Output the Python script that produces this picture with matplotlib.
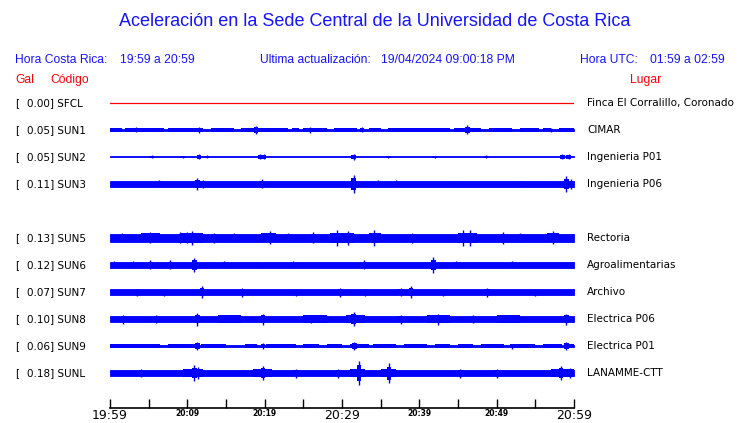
import matplotlib
matplotlib.use("Agg")
import matplotlib.pyplot as plt
from matplotlib.transforms import blended_transform_factory

# station table
codes = ["SFCL", "SUN1", "SUN2", "SUN3", "SUN5", "SUN6", "SUN7", "SUN8", "SUN9", "SUNL"]
gal = [0.00, 0.05, 0.05, 0.11, 0.13, 0.12, 0.07, 0.10, 0.06, 0.18]
places = ["Finca El Corralillo, Coronado", "CIMAR", "Ingenieria P01", "Ingenieria P06",
          "Rectoria", "Agroalimentarias", "Archivo", "Electrica P06", "Electrica P01",
          "LANAMME-CTT"]
rows = [0, 1, 2, 3, 5, 6, 7, 8, 9, 10]

# background band half-height of each trace (display units, 27 per row)
base_amp = [0.0, 0.8, 0.5, 2.6, 3.6, 2.6, 2.6, 3.0, 0.6, 2.8]

# thicker stretches (start minute, end minute, half-height)
segments = {
    "SUN1": [(0, 1.5, 1.8), (2, 7, 2), (7.5, 12, 2), (13, 16, 1.8), (17, 23, 2),
             (23.5, 24.5, 1.5), (25, 28, 2), (29, 32, 1.8), (33.5, 35, 1.5),
             (36, 44, 2), (44.5, 48, 2.2), (49, 52, 1.8), (53, 55.5, 1.8),
             (56, 57, 1.5), (58, 60, 1.8)],
    "SUN5": [(4, 6.5, 4.5), (9, 12, 5), (19.5, 21.5, 4.5), (28.5, 31.5, 5),
             (33.5, 35, 4.5), (45, 47.5, 5), (56.5, 58, 4.5)],
    "SUN8": [(14, 17, 3.8), (25, 28, 3.8), (30.5, 33, 4), (41, 44, 3.8), (50, 53, 3.6)],
    "SUN9": [(0, 6.5, 1.8), (7.5, 11, 1.8), (11.8, 15, 1.8), (17.5, 19, 1.6),
             (20.2, 24, 1.8), (25, 27, 1.6), (28, 30, 1.8), (31, 33.5, 1.8),
             (34, 37, 1.6), (38, 41, 1.8), (42, 44, 1.6), (45, 47, 1.8),
             (48, 51, 1.6), (52, 55, 1.8), (56, 58.5, 1.6), (59, 60, 1.8)],
    "SUNL": [(9.5, 12, 3.8), (18.5, 21, 3.8), (31, 33, 4), (35, 37, 3.6), (57, 60, 4)],
}

# bursts (minute, half-height)
bursts = {
    "SUN1": [(3.4, 2.5), (11.5, 3), (18.9, 4), (25.9, 3), (32.6, 2.5), (46.2, 4.5), (57, 2)],
    "SUN2": [(5.4, 1.5), (9.4, 1), (11.5, 2.5), (12.5, 1.5), (19.4, 2.5), (19.9, 2.5),
             (31.5, 3), (36, 1), (48.6, 1.5), (42, 1), (58.5, 2.5), (59.3, 2.5)],
    "SUN3": [(6.3, 3.5), (11.3, 6), (12.0, 4), (19.6, 4.5), (31.5, 9), (34.6, 3.5),
             (37, 3.5), (44, 3), (53, 3), (59, 8), (59.6, 5)],
    "SUN5": [(1.5, 4.5), (5.2, 5.5), (9.1, 5.5), (10.6, 7), (10.0, 5.5), (13.5, 5),
             (20.7, 6.5), (26.3, 5.5), (29.4, 8), (30.8, 7), (34.2, 8), (45.7, 8),
             (46.6, 8), (50.8, 6), (57.3, 6.5), (39, 5), (16, 4.5), (23, 4.5), (53, 4.5)],
    "SUN6": [(0.5, 3.5), (5.2, 4.5), (7.8, 4.5), (10.9, 7), (14.8, 3.5), (23.6, 3.5),
             (32.9, 4.5), (41.8, 8), (44.7, 3.5), (52, 3.5), (3, 3.5), (19, 3.2)],
    "SUN7": [(3.5, 3.5), (11.9, 6), (17.1, 4.5), (29.8, 4.5), (37.6, 4), (38.9, 5.5),
             (48.8, 4.5), (43, 3.5), (55, 3.5), (7, 3.5), (24, 3.5), (33, 3.5)],
    "SUN8": [(1.7, 4.5), (11.3, 6.5), (19.8, 5.5), (31.5, 7), (37.6, 4.5), (42.4, 5.5),
             (26, 4), (59, 5.5), (6, 4), (47, 4)],
    "SUN9": [(11.3, 4), (19.8, 3), (31.6, 4), (52, 2.5), (59, 4)],
    "SUNL": [(10.9, 8), (11.4, 6), (19.8, 7), (32.2, 12), (36.1, 10), (45.3, 4.5),
             (29.5, 4.5), (58.3, 7), (59.5, 5), (4, 4), (24, 4.5), (50, 4.5)],
}

tick_pos = list(range(0, 61, 5))
tick_labels = ["19:59", "", "20:09", "", "20:19", "", "20:29", "", "20:39", "", "20:49", "", "20:59"]

BLUE = "#0000ff"
RED = "#ff0000"
ROW = 27.0  # display units per row

fig = plt.figure(figsize=(7.4, 4.23), dpi=100)
fig.patch.set_facecolor("white")

def fx(px):
    return px / 740.0

def fy(py):
    return 1 - py / 423.0

ax = fig.add_axes([fx(110), fy(408), fx(574) - fx(110), fy(90) - fy(408)])
ax.set_xlim(0, 60)
ax.set_ylim(11.296, -0.481)

for code, r, b in zip(codes, rows, base_amp):
    if code == "SFCL":
        ax.plot([0, 60], [r, r], color=RED, lw=0.9)
        continue
    ax.fill_between([0, 60], r - b / ROW, r + b / ROW, color=BLUE, lw=0.6)
    for t0, t1, h in segments.get(code, []):
        ax.fill_between([t0, t1], r - h / ROW, r + h / ROW, color=BLUE, lw=0)
    for t, h in bursts.get(code, []):
        ax.fill_between([t - 0.3, t + 0.3], r - 0.65 * h / ROW, r + 0.65 * h / ROW,
                        color=BLUE, lw=0)
        ax.vlines(t, r - h / ROW, r + h / ROW, color=BLUE, lw=1.0)

for s in ["top", "left", "right"]:
    ax.spines[s].set_visible(False)
ax.spines["bottom"].set_linewidth(1.2)
ax.set_yticks([])
ax.set_xticks(tick_pos)
ax.set_xticklabels(tick_labels)
ax.tick_params(axis="x", direction="in", length=6.5, width=1.0, pad=0.5)
for i, lab in enumerate(ax.get_xticklabels()):
    if tick_labels[i] in ("19:59", "20:29", "20:59"):
        lab.set_fontsize(9)
    else:
        lab.set_fontsize(5.5)
        lab.set_fontweight("bold")

# header texts
fig.text(fx(375), fy(22), "Aceleración en la Sede Central de la Universidad de Costa Rica",
         color="#1414ff", fontsize=13, family="Liberation Sans", ha="center", va="center")
hdr = dict(color="#1414ff", fontsize=8.7, family="Liberation Sans", va="center")
fig.text(fx(15), fy(60), "Hora Costa Rica:", **hdr)
fig.text(fx(120), fy(60), "19:59 a 20:59", **hdr)
fig.text(fx(260), fy(60), "Ultima actualización:", **hdr)
fig.text(fx(381), fy(60), "19/04/2024 09:00:18 PM", **hdr)
fig.text(fx(580), fy(60), "Hora UTC:", **hdr)
fig.text(fx(650), fy(60), "01:59 a 02:59", **hdr)
red = dict(color=RED, fontsize=8.7, family="Liberation Sans", va="center")
fig.text(fx(15), fy(80), "Gal", **red)
fig.text(fx(50), fy(80), "Código", **red)
fig.text(fx(630), fy(80), "Lugar", **red)

tr = blended_transform_factory(fig.transFigure, ax.transData)
for code, g, place, r in zip(codes, gal, places, rows):
    ax.text(fx(15), r, "[", transform=tr, fontsize=7.5, va="center", clip_on=False)
    ax.text(fx(27), r, f"{g:.2f}] {code}", transform=tr, fontsize=7.5, va="center", clip_on=False)
    ax.text(fx(587), r, place, transform=tr, fontsize=7.5, va="center", clip_on=False)

fig.savefig("out.png", dpi=100)
